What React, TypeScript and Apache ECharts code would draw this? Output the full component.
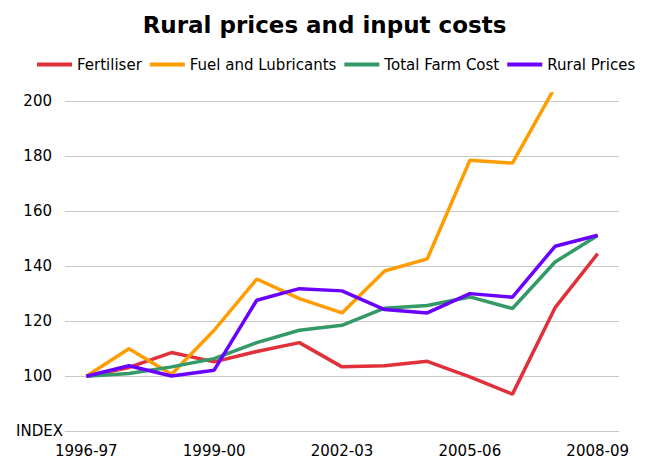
import React, { useEffect, useRef } from "react";
import * as echarts from "echarts";

const categories = [
  "1996-97", "1997-98", "1998-99", "1999-00", "2000-01", "2001-02", "2002-03",
  "2003-04", "2004-05", "2005-06", "2006-07", "2007-08", "2008-09",
];
const fertiliser = [100, 103.2, 108.6, 105.2, 109, 112.2, 103.4, 103.8, 105.4, 99.8, 93.5, 124.9, 144.5];
const fuelAndLubricants = [100, 110, 100.7, 116.7, 135.3, 128.2, 123, 138.2, 142.6, 178.4, 177.4, 205, 230];
const totalFarmCost = [100, 101, 103.4, 106.4, 112.2, 116.7, 118.5, 124.7, 125.7, 128.8, 124.6, 141.5, 151.1];
const ruralPrices = [100, 103.8, 100.1, 102.2, 127.6, 131.8, 131, 124.2, 123, 130, 128.7, 147.2, 151.2];
const seriesNames = ["Fertiliser", "Fuel and Lubricants", "Total Farm Cost", "Rural Prices"];
const colors = ["#E0303A", "#FF9C00", "#339966", "#6A00FF"];

export default function App() {
  const ref = useRef<HTMLDivElement>(null);
  useEffect(() => {
    if (!ref.current) return;
    const chart = echarts.init(ref.current, undefined, { renderer: "svg" });
    const font = "'DejaVu Sans', sans-serif";
    const data = [fertiliser, fuelAndLubricants, totalFarmCost, ruralPrices];
    chart.setOption({
      animation: false,
      backgroundColor: "#ffffff",
      textStyle: { fontFamily: font },
      title: {
        text: "Rural prices and input costs",
        left: "center",
        top: 8,
        textStyle: { fontFamily: font, fontSize: 23, fontWeight: "bold", color: "#000" },
      },
      legend: {
        left: 37,
        top: 57,
        padding: 0,
        icon: "rect",
        itemWidth: 35,
        itemHeight: 4,
        itemGap: 8,
        textStyle: { fontFamily: font, fontSize: 15, color: "#000" },
        data: seriesNames,
      },
      grid: { left: 65, right: 30, top: 94, bottom: 30.7, containLabel: false },
      xAxis: {
        type: "category",
        data: categories,
        boundaryGap: true,
        axisLine: { show: true, lineStyle: { color: "#c8c8c8", width: 1 } },
        axisTick: { show: false },
        axisLabel: { interval: 2, color: "#000", fontSize: 15, fontFamily: font, margin: 12 },
      },
      yAxis: {
        type: "value",
        min: 80,
        max: 202.5,
        interval: 20,
        name: "INDEX",
        nameLocation: "start",
        nameGap: 0,
        nameTextStyle: {
          fontFamily: font, fontSize: 15, color: "#000",
          align: "right", verticalAlign: "middle", padding: [0, 2, 0, 0],
        },
        axisLine: { show: false },
        axisTick: { show: false },
        axisLabel: {
          color: "#000", fontSize: 15, fontFamily: font, margin: 13,
          showMaxLabel: false,
          formatter: (v: number) => (v === 80 || v > 200 ? "" : String(v)),
        },
        splitLine: { show: true, showMaxLine: false, lineStyle: { color: "#c8c8c8", width: 1 } },
      },
      series: seriesNames.map((name, i) => ({
        name,
        type: "line",
        data: data[i],
        symbol: "none",
        clip: true,
        lineStyle: { color: colors[i], width: 3.5 },
        itemStyle: { color: colors[i] },
      })),
    });
    return () => chart.dispose();
  }, []);
  return (
    <div
      ref={ref}
      style={{ position: "absolute", left: 0, top: 0, width: 649, height: 462, overflow: "hidden" }}
    />
  );
}
